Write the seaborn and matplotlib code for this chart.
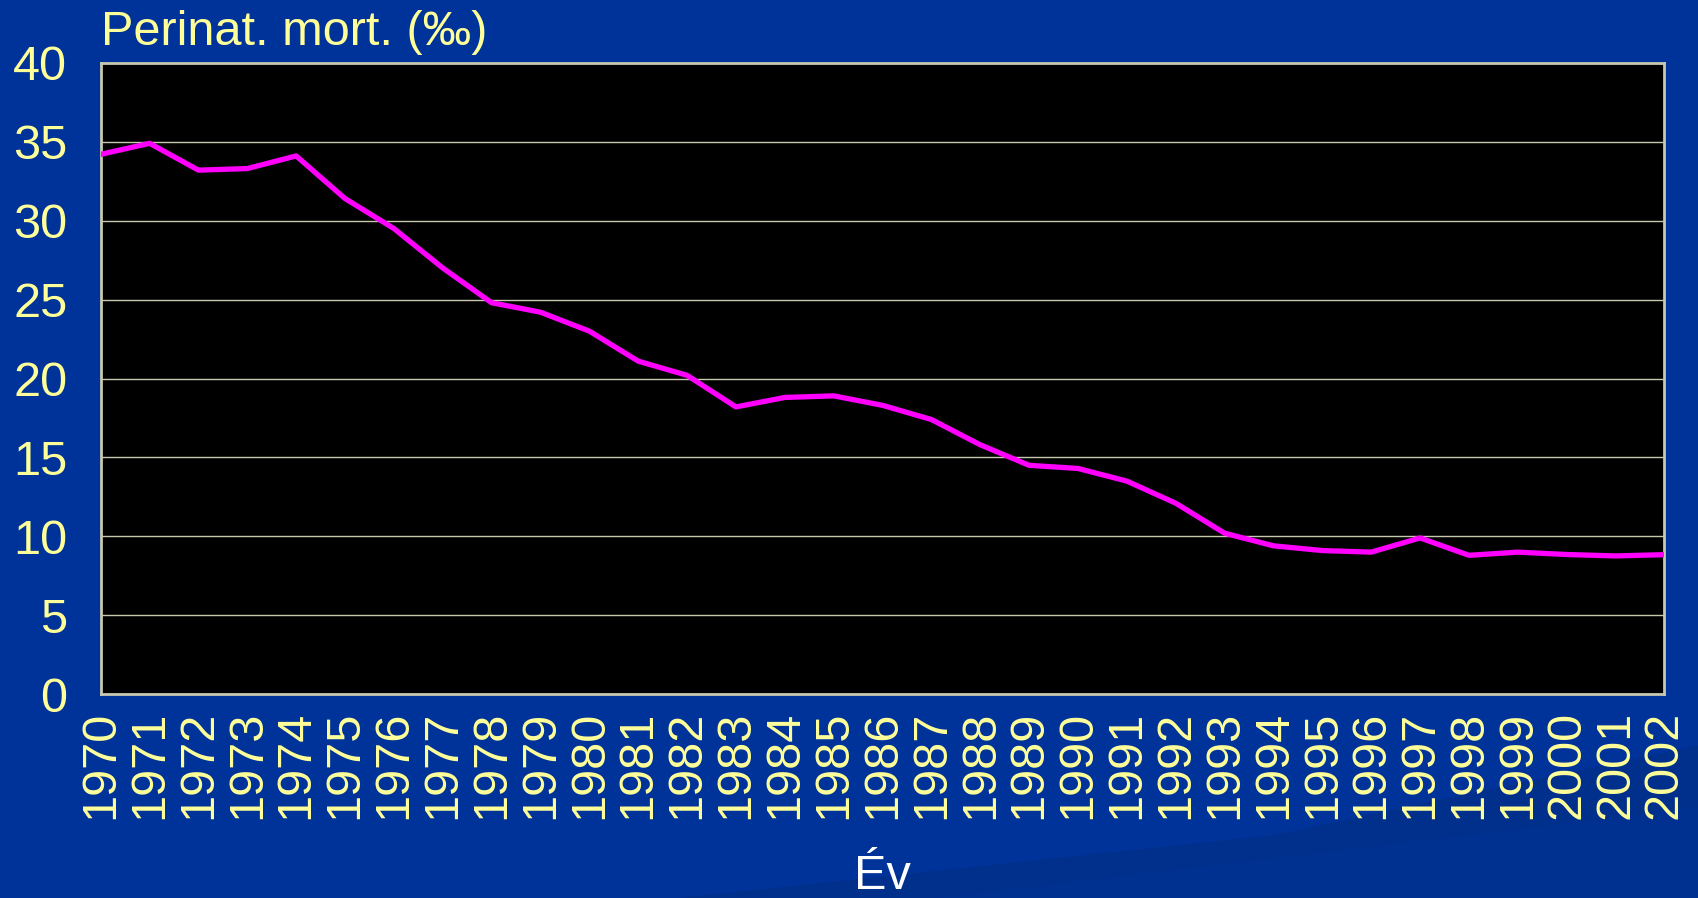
import matplotlib
matplotlib.use("Agg")
import matplotlib.pyplot as plt
from matplotlib.patches import Polygon
import seaborn as sns
import pandas as pd

years = list(range(1970, 2003))
perinatal_mortality = [34.2, 34.9, 33.2, 33.3, 34.1, 31.4, 29.5, 27.0, 24.8, 24.2,
                       23.0, 21.1, 20.2, 18.2, 18.8, 18.9, 18.3, 17.4, 15.8, 14.5,
                       14.3, 13.5, 12.1, 10.2, 9.4, 9.1, 9.0, 9.9, 8.8, 9.0,
                       8.85, 8.76, 8.84]
y_ticks = [0, 5, 10, 15, 20, 25, 30, 35, 40]
y_label = "Perinat. mort. (‰)"
x_label = "Év"

df = pd.DataFrame({"year": years, "value": perinatal_mortality})

sns.set_theme(style="dark")
plt.rcParams['font.family'] = ['Liberation Sans', 'DejaVu Sans']

BG = "#003399"
TXT = "#FFFF99"
GRID = "#C8C8B0"
FS = 35

fig = plt.figure(figsize=(16.98, 8.98), dpi=100, facecolor=BG)

# background decoration axis (behind everything)
bg = fig.add_axes([0, 0, 1, 1], zorder=-10)
bg.set_xlim(0, 1)
bg.set_ylim(0, 1)
bg.axis("off")
bg.add_patch(Polygon([[0.40, 0.0], [1.0, 0.0], [1.0, 0.17], [0.75, 0.07]],
                     closed=True, facecolor="#002F8C", edgecolor="none"))
bg.add_patch(Polygon([[0.55, 0.0], [1.0, 0.0], [1.0, 0.10]],
                     closed=True, facecolor="#003190", edgecolor="none"))

ax = fig.add_axes([100.7/1698, 1-694.2/898, (1664.4-100.7)/1698, (694.2-62.8)/898])
ax.set_facecolor("black")

sns.lineplot(data=df, x="year", y="value", ax=ax, color="#FF00FF", linewidth=3.8, zorder=3)

ax.set_xlim(1970, 2002)
ax.set_ylim(0, 40)
ax.set_xticks(years)
ax.set_xticklabels([str(y) for y in years], rotation=90, fontsize=FS, color=TXT)
ax.set_yticks(y_ticks)
ax.set_yticklabels([str(v) for v in y_ticks], fontsize=FS, color=TXT)
ax.tick_params(axis="x", length=0, pad=12)
ax.tick_params(axis="y", length=0, pad=24)

ax.grid(axis="y", color=GRID, linewidth=1.0)
ax.grid(axis="x", visible=False)
for s in ax.spines.values():
    s.set_visible(True)
    s.set_color(GRID)
    s.set_linewidth(2.0)

ax.set_xlabel("")
ax.set_ylabel("")

fig.text(101/1698, 1-45/898, y_label, fontsize=FS, color=TXT, ha="left", va="baseline")
fig.text(882.5/1698, 1-889/898, x_label, fontsize=FS, color="white", ha="center", va="baseline")

fig.savefig("out.png", dpi=100, facecolor=BG)
